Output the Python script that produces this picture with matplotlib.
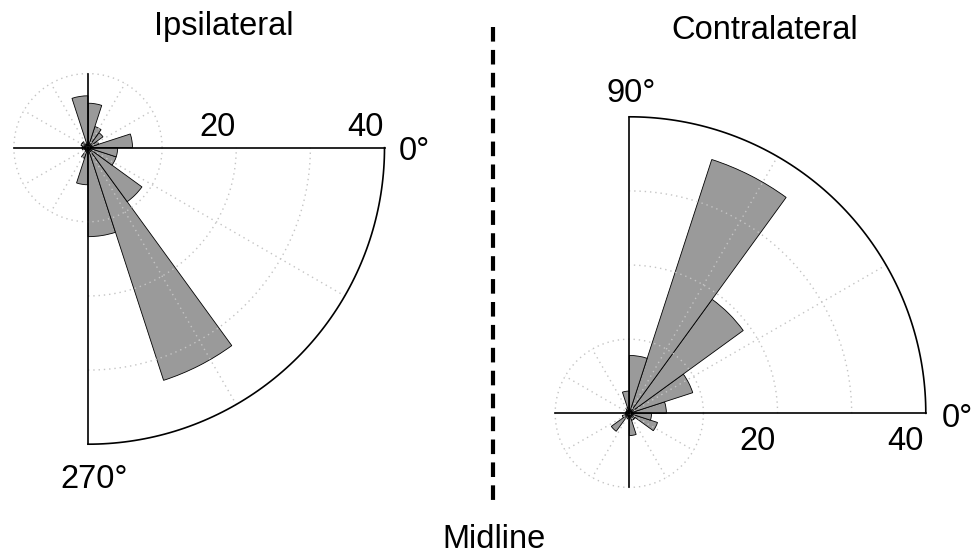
import numpy as np
import matplotlib
matplotlib.use('Agg')
import matplotlib.pyplot as plt
from matplotlib.lines import Line2D

plt.rcParams['font.family'] = ['Liberation Sans', 'DejaVu Sans']

# percentage per 18 deg bin, first bin 0-18 deg, counterclockwise
bin_deg = 18
ipsi = [6, 1.5, 2.5, 3, 6, 7, 0.5, 1, 1, 0.8,
        0.8, 0.5, 0.5, 1.5, 5, 12, 33, 9, 4, 4]
contra = [5, 9, 19, 36, 7.8, 3, 0.8, 0.5, 0.5, 0.5,
          0.5, 1, 3, 0.8, 0.5, 3, 1, 1, 4, 3]
ring_ticks = [20, 40]

W, H = 975, 554
R = 296.5  # pixels for r = 40

fig = plt.figure(figsize=(W / 100, H / 100), dpi=100)


def px(x, y):
    return x / W, 1 - y / H


def rose(cx, cy, vals, q0):
    # q0 = start angle (deg) of the quadrant that is drawn out to 40
    ax = fig.add_axes([(cx - R) / W, (H - cy - R) / H, 2 * R / W, 2 * R / H],
                      projection='polar')
    ax.set_ylim(0, 40)
    ax.set_xticks([])
    ax.set_yticks([])
    ax.grid(False)
    ax.spines['polar'].set_visible(False)
    ax.patch.set_visible(False)

    theta = np.deg2rad(np.arange(len(vals)) * bin_deg)
    ax.bar(theta, vals, width=np.deg2rad(bin_deg), align='edge',
           color='#9a9a9a', edgecolor='black', linewidth=0.6, zorder=2)

    grid = dict(color='#c4c4c4', lw=1.0, ls=(0, (1, 2.8)), zorder=3)
    t = np.linspace(0, 2 * np.pi, 361)
    ax.plot(t, np.full_like(t, 10), **grid)
    tq = np.deg2rad(np.linspace(q0, q0 + 90, 91))
    for r in (20, 30):
        ax.plot(tq, np.full_like(tq, r), **grid)
    for a in range(30, 360, 30):
        if a % 90 == 0:
            continue
        rr = 40 if q0 < a < q0 + 90 else 10
        ax.plot([np.deg2rad(a)] * 2, [0, rr], **grid)

    edges = (q0 % 360, (q0 + 90) % 360)
    for a in (0, 90, 180, 270):
        rr = 40 if a in edges else 10
        ax.plot([np.deg2rad(a)] * 2, [0, rr], color='black', lw=1.2,
                zorder=4, clip_on=False)
    ax.plot(tq, np.full_like(tq, 40), color='black', lw=1.2, zorder=4,
            clip_on=False)
    return ax


rose(88, 147.7, ipsi, 270)
rose(629.3, 413.3, contra, 0)

fs = 23.5
fig.text(*px(224, 35), 'Ipsilateral', ha='center', va='baseline', fontsize=fs)
fig.text(*px(764.5, 39), 'Contralateral', ha='center', va='baseline', fontsize=fs)
fig.text(*px(494, 548), 'Midline', ha='center', va='baseline', fontsize=fs)

# ring labels
for r in ring_ticks:
    fig.text(*px(88 + R * r / 40 - 1, 136), str(r), ha='right', va='baseline', fontsize=fs)
    fig.text(*px(629.3 + R * r / 40 - 2, 450), str(r), ha='right', va='baseline', fontsize=fs)

fig.text(*px(399, 160), '0°', ha='left', va='baseline', fontsize=fs)
fig.text(*px(60, 488), '270°', ha='left', va='baseline', fontsize=fs)
fig.text(*px(607, 102), '90°', ha='left', va='baseline', fontsize=fs)
fig.text(*px(942, 427), '0°', ha='left', va='baseline', fontsize=fs)

# midline
x0, ytop = px(493, 27)
_, ybot = px(493, 502)
fig.add_artist(Line2D([x0, x0], [ytop, ybot], transform=fig.transFigure,
                      color='black', lw=3, ls=(0, (3.5, 2))))

fig.savefig('out.png', dpi=100)
